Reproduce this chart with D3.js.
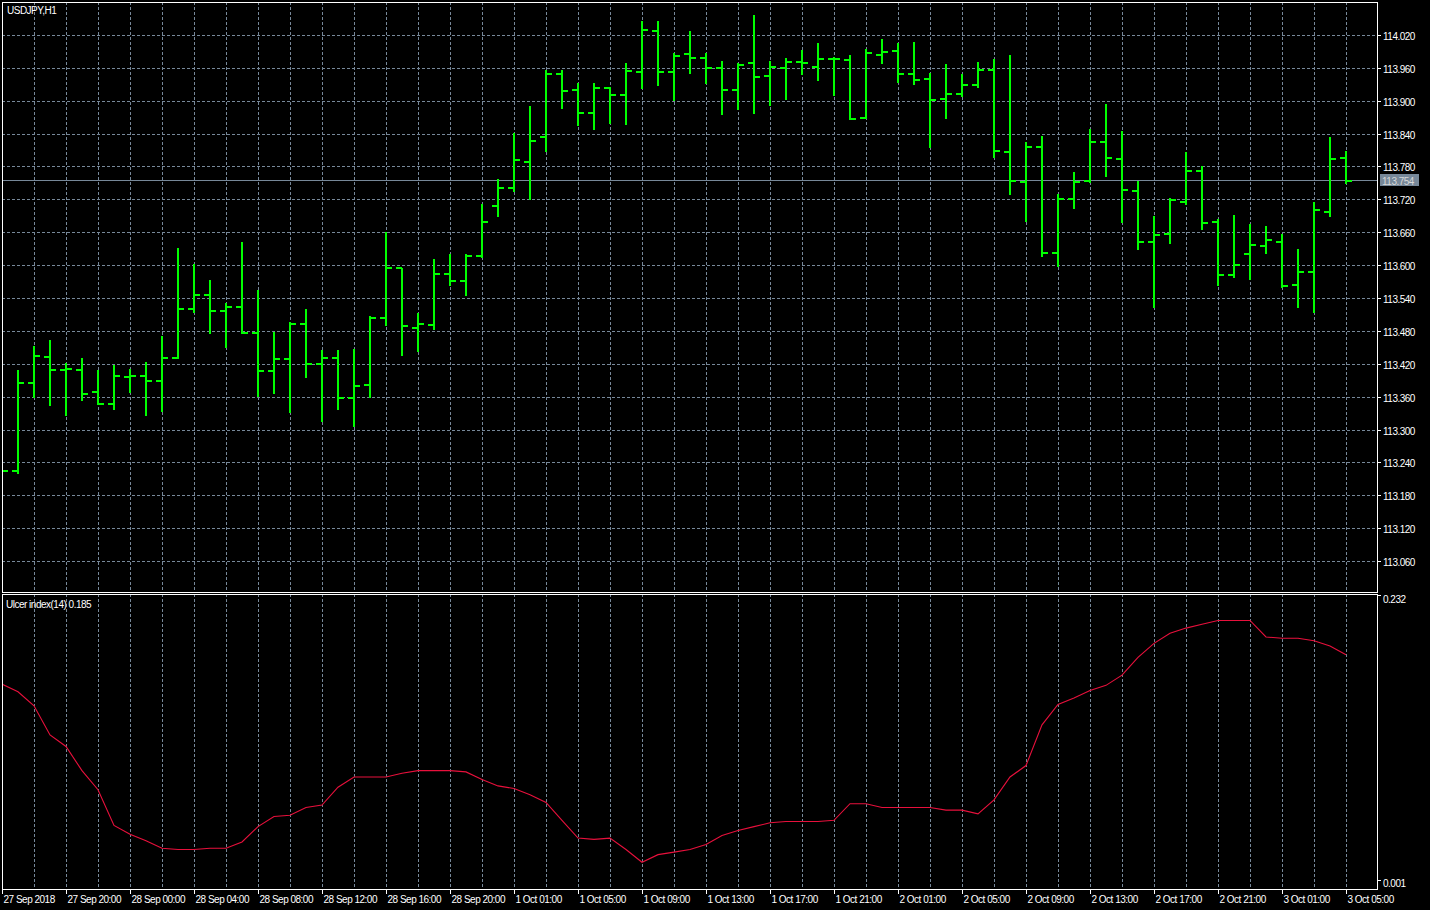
<!DOCTYPE html>
<html>
<head>
<meta charset="utf-8">
<script src="https://cdn.jsdelivr.net/npm/d3@7"></script>
<style>
  html, body { margin: 0; padding: 0; background: #000; }
  svg { display: block; }
  text { font-family: "Liberation Sans", Arial, sans-serif; font-size: 10px; letter-spacing: -0.5px; fill: #fff; }
</style>
</head>
<body>
<svg id="chart" width="1430" height="910"></svg>
<script>
// ---- DATA (bar index -1 is the partially visible bar at the left edge) ----
const barIndex = d3.range(-1, 84);
const opens = [113.240,113.225,113.384,113.433,113.408,113.409,113.368,113.347,113.395,113.397,
  113.388,113.431,113.520,113.546,113.517,113.523,113.476,113.406,113.428,113.492,
  113.419,113.431,113.358,113.382,113.504,113.594,113.486,113.490,113.583,113.571,
  113.616,113.708,113.741,113.789,113.833,113.948,113.920,113.877,113.924,113.911,
  113.953,114.028,113.953,113.985,113.978,113.960,113.920,113.968,113.945,113.960,
  113.971,113.962,113.976,113.974,113.869,113.984,113.991,113.948,113.940,113.903,
  113.912,113.929,113.956,113.807,113.752,113.816,113.622,113.721,113.754,113.825,
  113.794,113.736,113.643,113.657,113.716,113.772,113.679,113.582,113.621,113.635,
  113.643,113.563,113.588,113.697,113.796];
const highs = [113.270,113.409,113.453,113.464,113.421,113.430,113.409,113.418,113.411,113.424,
  113.471,113.631,113.602,113.573,113.531,113.642,113.555,113.478,113.497,113.520,
  113.445,113.445,113.447,113.507,113.661,113.594,113.512,113.611,113.621,113.621,
  113.712,113.757,113.841,113.890,113.957,113.956,113.932,113.932,113.926,113.968,
  114.046,114.045,113.988,114.027,113.987,113.973,113.968,114.056,113.973,113.978,
  113.993,114.005,113.979,113.983,113.994,114.012,114.005,114.007,113.950,113.967,
  113.949,113.971,113.976,113.984,113.825,113.836,113.729,113.770,113.849,113.894,
  113.845,113.754,113.690,113.722,113.807,113.780,113.684,113.692,113.675,113.672,
  113.656,113.630,113.716,113.833,113.808];
const lows = [113.200,113.221,113.360,113.344,113.327,113.353,113.346,113.337,113.369,113.326,
  113.334,113.430,113.514,113.476,113.451,113.476,113.362,113.366,113.332,113.396,
  113.315,113.337,113.307,113.360,113.491,113.436,113.444,113.484,113.563,113.546,
  113.615,113.690,113.736,113.720,113.809,113.887,113.855,113.849,113.859,113.858,
  113.924,113.929,113.901,113.951,113.933,113.876,113.885,113.878,113.892,113.903,
  113.949,113.938,113.911,113.867,113.868,113.969,113.935,113.930,113.816,113.868,
  113.909,113.926,113.797,113.729,113.681,113.617,113.599,113.705,113.752,113.762,
  113.679,113.629,113.523,113.641,113.711,113.666,113.564,113.579,113.575,113.623,
  113.560,113.523,113.515,113.689,113.749];
const closes = [113.225,113.384,113.434,113.408,113.411,113.365,113.347,113.397,113.398,113.388,
  113.431,113.520,113.546,113.517,113.523,113.476,113.406,113.428,113.492,113.419,
  113.431,113.358,113.380,113.504,113.594,113.488,113.493,113.583,113.571,113.616,
  113.679,113.741,113.792,113.827,113.948,113.918,113.877,113.924,113.911,113.955,
  114.029,113.953,113.982,113.978,113.960,113.920,113.966,113.944,113.962,113.971,
  113.968,113.977,113.976,113.867,113.987,113.989,113.949,113.938,113.901,113.912,
  113.928,113.956,113.809,113.753,113.815,113.622,113.721,113.752,113.825,113.796,
  113.737,113.643,113.655,113.718,113.772,113.677,113.582,113.600,113.637,113.645,
  113.561,113.588,113.700,113.794,113.754];
const ulcer = [0.162,0.156,0.145,0.122,0.113,0.094,0.079,0.051,0.044,0.039,
  0.033,0.032,0.032,0.033,0.033,0.038,0.050,0.058,0.059,0.065,
  0.067,0.081,0.089,0.089,0.089,0.092,0.094,0.094,0.094,0.093,
  0.087,0.082,0.080,0.075,0.069,0.055,0.041,0.040,0.041,0.032,
  0.022,0.028,0.030,0.032,0.036,0.043,0.047,0.050,0.053,0.054,
  0.054,0.054,0.055,0.068,0.068,0.065,0.065,0.065,0.065,0.063,
  0.063,0.060,0.071,0.089,0.098,0.130,0.146,0.151,0.157,0.161,
  0.169,0.183,0.194,0.202,0.206,0.209,0.212,0.212,0.212,0.199,
  0.198,0.198,0.196,0.192,0.185];
const priceTicks = d3.range(0, 17).map(k => +(113.060 + k * 0.06).toFixed(3));
const timeTickBars = [-1, 3, 7, 11, 15, 19, 23, 27, 31, 35, 39, 43, 47, 51, 55, 59, 63, 67, 71, 75, 79, 83];
const timeTickLabels = ["27 Sep 2018","27 Sep 20:00","28 Sep 00:00","28 Sep 04:00","28 Sep 08:00","28 Sep 12:00",
  "28 Sep 16:00","28 Sep 20:00","1 Oct 01:00","1 Oct 05:00","1 Oct 09:00","1 Oct 13:00","1 Oct 17:00",
  "1 Oct 21:00","2 Oct 01:00","2 Oct 05:00","2 Oct 09:00","2 Oct 13:00","2 Oct 17:00","2 Oct 21:00",
  "3 Oct 01:00","3 Oct 05:00"];
const bidPrice = 113.754;
const ulcerMinMax = [0.001, 0.232];
const symbolTitle = "USDJPY,H1";
const indicatorTitle = "Ulcer index(14) 0.185";

// ---- LAYOUT ----
const L = 2, R = 1377;
const mainTop = 2, mainBottom = 592;
const indTop = 594, indBottom = 889;
const gridColor = "#778899";

const svg = d3.select("#chart");
svg.append("rect").attr("width", 1430).attr("height", 910).attr("fill", "#000");

const x = d3.scaleLinear().domain([0, 1]).range([18, 34]);
const y = d3.scaleLinear().domain([113.060, 114.020]).range([561, 35]);
const yInd = d3.scaleLinear().domain(ulcerMinMax).range([indBottom, indTop + 1]);

const defs = svg.append("defs");
defs.append("clipPath").attr("id", "clipMain").append("rect")
  .attr("x", L + 1).attr("y", mainTop + 1).attr("width", R - L - 1).attr("height", mainBottom - mainTop - 1);
defs.append("clipPath").attr("id", "clipInd").append("rect")
  .attr("x", L + 1).attr("y", indTop + 1).attr("width", R - L - 1).attr("height", indBottom - indTop - 1);

// vertical grid positions every 2 bars
const vGrid = barIndex.filter(i => i >= 0 && i % 2 === 1);

// ---- MAIN PANEL ----
const gMain = svg.append("g").attr("clip-path", "url(#clipMain)");
gMain.selectAll("line.hg").data(priceTicks).join("line")
  .attr("x1", L).attr("x2", R)
  .attr("y1", d => Math.round(y(d)) + 0.5).attr("y2", d => Math.round(y(d)) + 0.5)
  .attr("stroke", gridColor).attr("stroke-width", 1).attr("stroke-dasharray", "3,2");
gMain.selectAll("line.vg").data(vGrid).join("line")
  .attr("x1", d => x(d) + 0.5).attr("x2", d => x(d) + 0.5)
  .attr("y1", mainTop).attr("y2", mainBottom)
  .attr("stroke", gridColor).attr("stroke-width", 1).attr("stroke-dasharray", "3,2");

// bid line
gMain.append("line")
  .attr("x1", L).attr("x2", R)
  .attr("y1", Math.floor(y(bidPrice)) + 0.5).attr("y2", Math.floor(y(bidPrice)) + 0.5)
  .attr("stroke", gridColor).attr("stroke-width", 1);

// OHLC bars
const bars = barIndex.map((b, k) => ({ b, o: opens[k], h: highs[k], l: lows[k], c: closes[k] }));
const gb = gMain.append("g").attr("stroke", "#00ff00").attr("stroke-width", 2).attr("fill", "none");
bars.forEach(d => {
  const cx = x(d.b);
  const yo = Math.round(y(d.o)), yc = Math.round(y(d.c));
  gb.append("line").attr("x1", cx).attr("x2", cx).attr("y1", Math.round(y(d.h))).attr("y2", Math.round(y(d.l)) + 1);
  gb.append("line").attr("x1", cx - 6).attr("x2", cx).attr("y1", yo).attr("y2", yo);
  gb.append("line").attr("x1", cx).attr("x2", cx + 6).attr("y1", yc).attr("y2", yc);
});

// main border
svg.append("rect").attr("x", L + 0.5).attr("y", mainTop + 0.5)
  .attr("width", R - L).attr("height", mainBottom - mainTop)
  .attr("fill", "none").attr("stroke", "#fff").attr("stroke-width", 1);

svg.append("text").attr("x", 7).attr("y", 13.5).text(symbolTitle);

// price axis
const gAx = svg.append("g");
priceTicks.forEach(p => {
  const yy = Math.round(y(p)) + 0.5;
  gAx.append("line").attr("x1", R).attr("x2", R + 4).attr("y1", yy).attr("y2", yy).attr("stroke", "#fff");
  gAx.append("text").attr("x", 1383).attr("y", yy + 4).text(p.toFixed(3));
});
// bid label
const by = Math.floor(y(bidPrice)) + 0.5;
gAx.append("rect").attr("x", 1380).attr("y", by - 6.5).attr("width", 39).attr("height", 12).attr("fill", gridColor);
gAx.append("text").attr("x", 1382).attr("y", by + 4).style("fill", "#d8d8d8").text(bidPrice.toFixed(3));

// ---- INDICATOR PANEL ----
const gInd = svg.append("g").attr("clip-path", "url(#clipInd)");
gInd.selectAll("line.vg2").data(vGrid).join("line")
  .attr("x1", d => x(d) + 0.5).attr("x2", d => x(d) + 0.5)
  .attr("y1", indTop).attr("y2", indBottom)
  .attr("stroke", gridColor).attr("stroke-width", 1).attr("stroke-dasharray", "3,2");
const line = d3.line().x((d, k) => x(barIndex[k])).y(d => yInd(d));
gInd.append("path").datum(ulcer).attr("d", line)
  .attr("fill", "none").attr("stroke", "#e8103c").attr("stroke-width", 1.1);

svg.append("rect").attr("x", L + 0.5).attr("y", indTop + 0.5)
  .attr("width", R - L).attr("height", indBottom - indTop)
  .attr("fill", "none").attr("stroke", "#fff").attr("stroke-width", 1);
svg.append("text").attr("x", 6).attr("y", 607.5).text(indicatorTitle);

// indicator scale
gAx.append("line").attr("x1", R).attr("x2", R + 4).attr("y1", indTop + 1.5).attr("y2", indTop + 1.5).attr("stroke", "#fff");
gAx.append("text").attr("x", 1383).attr("y", indTop + 9).text(ulcerMinMax[1].toFixed(3));
gAx.append("line").attr("x1", R).attr("x2", R + 4).attr("y1", indBottom - 8.5).attr("y2", indBottom - 8.5).attr("stroke", "#fff");
gAx.append("text").attr("x", 1383).attr("y", indBottom - 2).text(ulcerMinMax[0].toFixed(3));

// ---- TIME AXIS ----
timeTickBars.forEach((b, k) => {
  const tx = Math.max(L, x(b)) + 0.5;
  gAx.append("line").attr("x1", tx).attr("x2", tx).attr("y1", indBottom).attr("y2", indBottom + 5).attr("stroke", "#fff");
  gAx.append("text").attr("x", tx + 1).attr("y", 903).text(timeTickLabels[k]);
});
</script>
</body>
</html>
